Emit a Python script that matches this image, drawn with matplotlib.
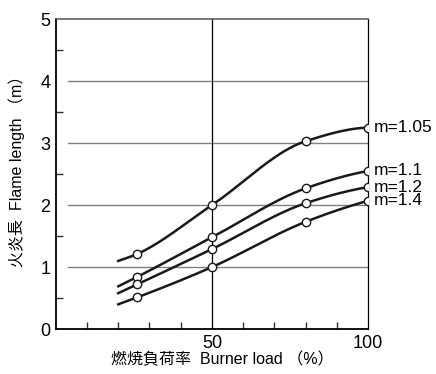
import numpy as np
import matplotlib
matplotlib.use("Agg")
import matplotlib.pyplot as plt

plt.rcParams['font.family'] = ['Liberation Sans', 'Noto Sans CJK JP', 'DejaVu Sans']

# burner load (%) and flame length (m); first point of each curve has no marker
load = [20, 26, 50, 80, 100]
m105 = [1.10, 1.21, 2.00, 3.03, 3.25]
m11 = [0.69, 0.84, 1.48, 2.27, 2.55]
m12 = [0.58, 0.72, 1.29, 2.03, 2.29]
m14 = [0.40, 0.51, 1.00, 1.73, 2.07]
series = [("m=1.05", m105), ("m=1.1", m11), ("m=1.2", m12), ("m=1.4", m14)]


def pchip(x, y, xs):
    # monotone cubic hermite, good enough for hand drawn curves
    x = np.asarray(x, float)
    y = np.asarray(y, float)
    h = np.diff(x)
    d = np.diff(y) / h
    n = len(x)
    m = np.zeros(n)
    for k in range(1, n - 1):
        if d[k - 1] * d[k] > 0:
            w1 = 2 * h[k] + h[k - 1]
            w2 = h[k] + 2 * h[k - 1]
            m[k] = (w1 + w2) / (w1 / d[k - 1] + w2 / d[k])
    m[0] = d[0]
    m[-1] = ((2 * h[-1] + h[-2]) * d[-1] - h[-1] * d[-2]) / (h[-1] + h[-2])
    if m[-1] * d[-1] < 0:
        m[-1] = 0
    out = np.empty_like(xs)
    for i, xv in enumerate(xs):
        k = min(np.searchsorted(x, xv, side='right') - 1, n - 2)
        t = (xv - x[k]) / h[k]
        h00 = 2 * t**3 - 3 * t**2 + 1
        h10 = t**3 - 2 * t**2 + t
        h01 = -2 * t**3 + 3 * t**2
        h11 = t**3 - t**2
        out[i] = h00 * y[k] + h10 * h[k] * m[k] + h01 * y[k + 1] + h11 * h[k] * m[k + 1]
    return out


fig = plt.figure(figsize=(4.36, 3.74), dpi=100)
ax = fig.add_axes([0.128, 0.120, 0.716, 0.829])

ax.set_xlim(0, 100)
ax.set_ylim(0, 5)

for yv in [1, 2, 3, 4]:
    ax.plot([3.8, 100], [yv, yv], color='#808080', lw=1.0, zorder=1)
ax.axvline(50, color='black', lw=0.9, zorder=1)

for name, vals in series:
    xs = np.linspace(load[0], load[-1], 200)
    ax.plot(xs, pchip(load, vals, xs), color='#1a1a1a', lw=1.8, zorder=3)
    ax.plot(load[1:], vals[1:], 'o', ms=6, mfc='white', mec='#1a1a1a', mew=1.0, zorder=4)
    ax.annotate(name, (100, vals[-1]), xytext=(4, 0), textcoords='offset points',
                va='center', ha='left', fontsize=12.5, annotation_clip=False)

ax.set_xticks([50, 100])
ax.set_xticks(range(10, 100, 10), minor=True)
ax.set_yticks([0, 1, 2, 3, 4, 5])
ax.set_yticks(np.arange(0.5, 5, 1), minor=True)
ax.tick_params(which='major', length=0, labelsize=13, pad=4)
ax.tick_params(which='minor', direction='in', length=5, width=1, color='#333333')
ax.tick_params(axis='x', which='minor', top=False)
ax.tick_params(axis='y', which='minor', right=False)

for s in ['left', 'bottom']:
    ax.spines[s].set_linewidth(1.3)
ax.spines['top'].set_linewidth(1.1)
ax.spines['top'].set_color('#555555')
ax.spines['right'].set_linewidth(0.9)

ax.set_xlabel('燃焼負荷率  Burner load （%）', fontsize=11.5)
ax.set_ylabel('火炎長  Flame length （m）', fontsize=11.5)
ax.xaxis.set_label_coords(0.532, -0.072)
ax.yaxis.set_label_coords(-0.10, 0.523)

fig.savefig('out.png', dpi=100)
